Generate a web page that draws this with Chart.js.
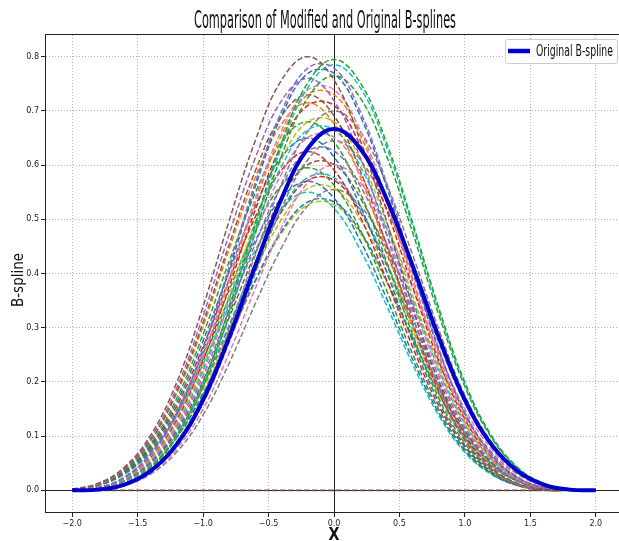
<!DOCTYPE html>
<html>
<head>
<meta charset="utf-8">
<script src="https://cdn.jsdelivr.net/npm/chart.js@4.4.1/dist/chart.umd.min.js"></script>
<style>
  html, body { margin: 0; padding: 0; background: #fff; overflow: hidden; width: 619px; height: 541px; }
  #wrap { width: 640px; height: 541px; position: relative; }
</style>
</head>
<body>
<div id="wrap"><canvas id="c" width="640" height="541"></canvas></div>
<script>
// Sample positions along x
const xValues = [-2.0, -1.8, -1.6, -1.4, -1.2, -1.0, -0.8, -0.6, -0.4, -0.2, 0.0,
                  0.2, 0.4, 0.6, 0.8, 1.0, 1.2, 1.4, 1.6, 1.8, 2.0];

// Cubic B-spline
const originalSpline = [0, 0.0013, 0.0107, 0.0360, 0.0853, 0.1667, 0.2827, 0.4147, 0.5387, 0.6307, 0.6667,
                        0.6307, 0.5387, 0.4147, 0.2827, 0.1667, 0.0853, 0.0360, 0.0107, 0.0013, 0];

// Degenerate (all-zero) modified curve
const zeroCurve = [0, 0, 0, 0, 0, 0, 0, 0, 0, 0, 0, 0, 0, 0, 0, 0, 0, 0, 0, 0, 0];

// Modified B-splines
const modified01 = [.002,.013,.043,.102,.200,.339,.498,.646,.757,.800,.757,.646,.498,.339,.200,.102,.043,.013,.002,0,0];
const modified02 = [0,.002,.013,.043,.102,.199,.337,.494,.642,.752,.795,.752,.642,.494,.337,.199,.102,.043,.013,.002,0];
const modified03 = [0,.005,.025,.068,.144,.262,.413,.568,.699,.779,.779,.699,.568,.413,.262,.144,.068,.025,.005,0,0];
const modified04 = [0,.002,.013,.042,.100,.196,.333,.488,.634,.743,.785,.743,.634,.488,.333,.196,.100,.042,.013,.002,0];
const modified05 = [0,.005,.024,.067,.142,.259,.407,.561,.691,.769,.769,.691,.561,.407,.259,.142,.067,.024,.005,0,0];
const modified06 = [0,.002,.012,.041,.098,.191,.324,.476,.618,.724,.765,.724,.618,.476,.324,.191,.098,.041,.012,.002,0];
const modified07 = [.002,.012,.041,.097,.190,.322,.473,.614,.719,.760,.719,.614,.473,.322,.190,.097,.041,.012,.002,0,0];
const modified08 = [0,.005,.023,.064,.137,.249,.392,.539,.664,.739,.739,.664,.539,.392,.249,.137,.064,.023,.005,0,0];
const modified09 = [0,.005,.023,.064,.135,.246,.387,.532,.655,.730,.730,.655,.532,.387,.246,.135,.064,.023,.005,0,0];
const modified10 = [.001,.012,.039,.093,.183,.310,.454,.590,.691,.730,.691,.590,.454,.310,.183,.093,.039,.012,.001,0,0];
const modified11 = [0,.005,.023,.062,.131,.239,.376,.518,.637,.710,.710,.637,.518,.376,.239,.131,.062,.023,.005,0,0];
const modified12 = [.001,.011,.039,.092,.179,.303,.445,.578,.676,.715,.676,.578,.445,.303,.179,.092,.039,.011,.001,0,0];
const modified13 = [0,.001,.011,.038,.090,.175,.297,.435,.566,.662,.700,.662,.566,.435,.297,.175,.090,.038,.011,.001,0];
const modified14 = [0,.005,.022,.059,.126,.229,.360,.496,.611,.680,.680,.611,.496,.360,.229,.126,.059,.022,.005,0,0];
const modified15 = [.001,.011,.037,.087,.170,.288,.423,.549,.643,.680,.643,.549,.423,.288,.170,.087,.037,.011,.001,0,0];
const modified16 = [0,.005,.021,.058,.123,.224,.353,.485,.598,.665,.665,.598,.485,.353,.224,.123,.058,.021,.005,0,0];
const modified17 = [0,.004,.021,.057,.120,.219,.345,.474,.584,.651,.651,.584,.474,.345,.219,.120,.057,.021,.004,0,0];
const modified18 = [.001,.010,.035,.083,.163,.276,.404,.525,.615,.650,.615,.525,.404,.276,.163,.083,.035,.010,.001,0,0];
const modified19 = [0,.001,.010,.035,.083,.161,.273,.401,.521,.610,.645,.610,.521,.401,.273,.161,.083,.035,.010,.001,0];
const modified20 = [0,.004,.020,.054,.116,.211,.332,.456,.562,.626,.626,.562,.456,.332,.211,.116,.054,.020,.004,0,0];
const modified21 = [.001,.010,.034,.080,.156,.265,.389,.505,.591,.625,.591,.505,.389,.265,.156,.080,.034,.010,.001,0,0];
const modified22 = [0,.004,.019,.052,.111,.202,.319,.438,.540,.601,.601,.540,.438,.319,.202,.111,.052,.019,.004,0,0];
const modified23 = [0,.001,.010,.032,.077,.150,.254,.373,.485,.568,.600,.568,.485,.373,.254,.150,.077,.032,.010,.001,0];
const modified24 = [.001,.010,.032,.076,.149,.252,.370,.481,.563,.595,.563,.481,.370,.252,.149,.076,.032,.010,.001,0,0];
const modified25 = [0,.004,.018,.050,.107,.194,.306,.421,.518,.577,.577,.518,.421,.306,.194,.107,.050,.018,.004,0,0];
const modified26 = [0,.004,.018,.050,.106,.192,.303,.417,.514,.572,.572,.514,.417,.303,.192,.106,.050,.018,.004,0,0];
const modified27 = [.001,.009,.031,.073,.143,.242,.355,.461,.539,.570,.539,.461,.355,.242,.143,.073,.031,.009,.001,0,0];
const modified28 = [0,.004,.018,.048,.103,.187,.295,.406,.500,.557,.557,.500,.406,.295,.187,.103,.048,.018,.004,0,0];
const modified29 = [0,.001,.009,.030,.071,.139,.235,.345,.448,.525,.555,.525,.448,.345,.235,.139,.071,.030,.009,.001,0];
const modified30 = [.001,.009,.030,.070,.138,.233,.342,.444,.520,.550,.520,.444,.342,.233,.138,.070,.030,.009,.001,0,0];
const modified31 = [0,.004,.017,.046,.098,.179,.282,.388,.478,.532,.532,.478,.388,.282,.179,.098,.046,.017,.004,0,0];
const modified32 = [0,.004,.017,.046,.098,.178,.279,.385,.474,.527,.527,.474,.385,.279,.178,.098,.046,.017,.004,0,0];

const modifiedSeries = [modified01, modified02, modified03, modified04, modified05, modified06, modified07, modified08,
  modified09, modified10, modified11, modified12, modified13, modified14, modified15, modified16,
  modified17, modified18, modified19, modified20, modified21, modified22, modified23, modified24,
  modified25, modified26, modified27, modified28, modified29, modified30, modified31, modified32];

const curveColors = ['#8c564b','#2ca02c','#9467bd','#17becf','#1f77b4','#2ca02c','#9467bd','#e377c2',
  '#ff7f0e','#8c564b','#d62728','#ff7f0e','#7f7f7f','#bcbd22','#2ca02c','#17becf',
  '#e377c2','#1f77b4','#7f7f7f','#9467bd','#d62728','#8c564b','#e377c2','#2ca02c',
  '#17becf','#d62728','#1f77b4','#bcbd22','#7f7f7f','#17becf','#1f77b4','#bcbd22'];

// Axis ticks
const xTickValues = [-2.0, -1.5, -1.0, -0.5, 0.0, 0.5, 1.0, 1.5, 2.0];
const xTickLabels = ['\u22122.0', '\u22121.5', '\u22121.0', '\u22120.5', '0.0', '0.5', '1.0', '1.5', '2.0'];
const yTickValues = [0.0, 0.1, 0.2, 0.3, 0.4, 0.5, 0.6, 0.7, 0.8];
const yTickLabels = ['0.0', '0.1', '0.2', '0.3', '0.4', '0.5', '0.6', '0.7', '0.8'];

const TITLE = 'Comparison of Modified and Original B-splines';
const X_TITLE = 'X';
const Y_TITLE = 'B-spline';

const toPoints = ys => ys.map((y, i) => ({ x: xValues[i], y }));

const datasets = [
  { label: 'Original B-spline', data: toPoints(originalSpline), borderColor: '#0000cc',
    borderWidth: 4, pointRadius: 0, tension: 0.4, fill: false },
  { label: '', data: toPoints(zeroCurve), borderColor: '#6b4c43', borderWidth: 1.8,
    borderDash: [5.5, 2.5], pointRadius: 0, tension: 0, fill: false }
].concat(modifiedSeries.map((ys, i) => ({
  label: '', data: toPoints(ys), borderColor: curveColors[i], borderWidth: 1.5,
  borderDash: [5.5, 2.5], pointRadius: 0, tension: 0.4, fill: false
})));

// Draw a horizontally condensed string
function condensedText(ctx, text, x, y, font, targetWidth, align) {
  ctx.save();
  ctx.font = font;
  const w = ctx.measureText(text).width;
  const k = targetWidth / w;
  ctx.translate(x, y);
  ctx.scale(k, 1);
  ctx.textAlign = align;
  ctx.textBaseline = 'alphabetic';
  ctx.fillText(text, 0, 0);
  ctx.restore();
}

const decorations = {
  id: 'decorations',
  beforeDatasetsDraw(chart) {
    const { ctx, chartArea: a, scales } = chart;
    const x0 = Math.round(scales.x.getPixelForValue(0)) + 0.5;
    const y0 = Math.round(scales.y.getPixelForValue(0)) + 0.5;
    ctx.save();
    ctx.strokeStyle = '#222';
    ctx.lineWidth = 1;
    ctx.beginPath();
    ctx.moveTo(x0, a.top); ctx.lineTo(x0, a.bottom);
    ctx.moveTo(a.left, y0); ctx.lineTo(a.right, y0);
    ctx.stroke();
    ctx.restore();
  },
  afterDraw(chart) {
    const { ctx, chartArea: a } = chart;
    ctx.save();
    // axes frame
    ctx.strokeStyle = '#222';
    ctx.lineWidth = 1;
    ctx.strokeRect(Math.round(a.left) - 0.5, Math.round(a.top) - 0.5,
                   Math.round(a.right - a.left) + 1, Math.round(a.bottom - a.top) + 1);

    ctx.fillStyle = '#111';
    // title
    condensedText(ctx, TITLE, 325, 27.5, '24px "DejaVu Sans"', 262, 'center');
    // x axis title
    condensedText(ctx, X_TITLE, (a.left + a.right) / 2, 540, 'bold 17px "DejaVu Sans"', 11, 'center');
    // y axis title
    ctx.save();
    ctx.translate(22.5, 280);
    ctx.rotate(-Math.PI / 2);
    condensedText(ctx, Y_TITLE, 0, 0, '15px "DejaVu Sans"', 54, 'center');
    ctx.restore();

    // legend
    const ds = chart.data.datasets[0];
    const bx = 505, by = 39, bw = 112, bh = 24;
    ctx.fillStyle = 'rgba(255,255,255,0.85)';
    ctx.strokeStyle = '#cccccc';
    ctx.lineWidth = 1;
    ctx.beginPath();
    ctx.roundRect(bx + 0.5, by + 0.5, bw, bh, 2);
    ctx.fill();
    ctx.stroke();
    ctx.strokeStyle = ds.borderColor;
    ctx.lineWidth = 4.5;
    ctx.beginPath();
    ctx.moveTo(508, 51);
    ctx.lineTo(530, 51);
    ctx.stroke();
    ctx.fillStyle = '#111';
    condensedText(ctx, ds.label, 536, 56, '15px "DejaVu Sans"', 77, 'left');
    ctx.restore();
  }
};

const tickFont = { family: 'DejaVu Sans', size: 8 };

new Chart(document.getElementById('c'), {
  type: 'line',
  data: { datasets },
  options: {
    responsive: false,
    animation: false,
    devicePixelRatio: 1,
    layout: { padding: { top: 35, right: 18, left: 0, bottom: 0 } },
    plugins: { legend: { display: false }, title: { display: false }, tooltip: { enabled: false } },
    scales: {
      x: {
        type: 'linear', min: -2.2, max: 2.2,
        afterFit(s) { s.height = 29; },
        afterBuildTicks(s) { s.ticks = xTickValues.map(v => ({ value: v })); },
        ticks: { callback: (v, i) => xTickLabels[i], font: tickFont, color: '#222',
                 padding: 2, maxRotation: 0, autoSkip: false },
        grid: { color: '#b0b0b0', lineWidth: 1, drawTicks: true, tickLength: 5, tickColor: '#222', tickWidth: 1 },
        border: { display: false, dash: [1, 2] }
      },
      y: {
        type: 'linear', min: -0.04, max: 0.84,
        afterFit(s) { s.width = 46; },
        afterBuildTicks(s) { s.ticks = yTickValues.map(v => ({ value: v })); },
        ticks: { callback: (v, i) => yTickLabels[i], font: tickFont, color: '#222',
                 padding: 2, autoSkip: false },
        grid: { color: '#b0b0b0', lineWidth: 1, drawTicks: true, tickLength: 5, tickColor: '#222', tickWidth: 1 },
        border: { display: false, dash: [1, 2] }
      }
    }
  },
  plugins: [decorations]
});
</script>
</body>
</html>
